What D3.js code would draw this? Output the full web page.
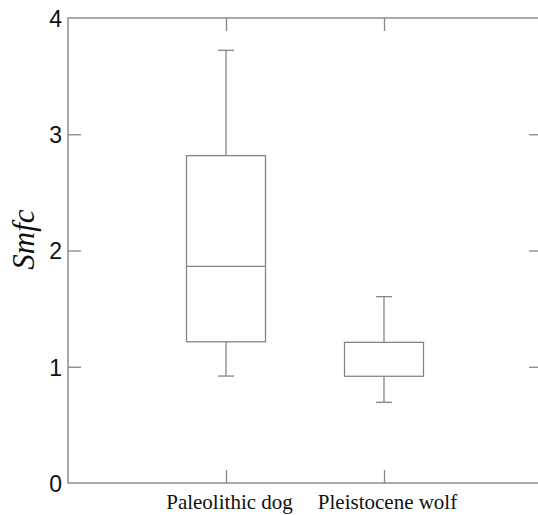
<!DOCTYPE html>
<html>
<head>
<meta charset="utf-8">
<script src="https://cdn.jsdelivr.net/npm/d3@7"></script>
<style>
  body { margin: 0; background: #fff; }
  svg { display: block; }
</style>
</head>
<body>
<div class="box-chart"></div>
<script>
// values
const categories = ["Paleolithic dog", "Pleistocene wolf"];
const whiskerLow = [0.92, 0.694];
const q1 = [1.215, 0.918];
const medians = [1.864, null];
const q3 = [2.816, 1.21];
const whiskerHigh = [3.722, 1.603];
const yTicks = [0, 1, 2, 3, 4];

const width = 538, height = 515;
const plotLeft = 68, plotRight = 542, plotTop = 18, plotBottom = 483;
const lineColor = "#858585";

const svg = d3.select(".box-chart")
  .append("svg")
  .attr("width", width)
  .attr("height", height);

const x = d3.scalePoint().domain(categories).range([plotLeft, plotRight]).padding(1);
const y = d3.scaleLinear().domain([0, 4]).range([plotBottom, plotTop]);

const rows = categories.map((c, i) => ({
  name: c, lo: whiskerLow[i], q1: q1[i], med: medians[i], q3: q3[i], hi: whiskerHigh[i]
}));

// frame
svg.append("rect")
  .attr("x", plotLeft)
  .attr("y", plotTop)
  .attr("width", plotRight - plotLeft)
  .attr("height", plotBottom - plotTop)
  .attr("fill", "none")
  .attr("stroke", lineColor)
  .attr("stroke-width", 1.4);

// left axis with labels, inward ticks
svg.append("g")
  .attr("transform", "translate(" + plotLeft + ",0)")
  .call(d3.axisLeft(y).tickValues(yTicks).tickSize(-13).tickPadding(6).tickFormat(d3.format("d")))
  .call(g => g.select(".domain").remove())
  .call(g => g.selectAll(".tick line").attr("stroke", lineColor).attr("stroke-width", 1.3))
  .call(g => g.selectAll(".tick line").filter(d => d === 0 || d === 4).remove())
  .call(g => g.selectAll("text")
    .attr("font-family", "Liberation Sans, Arial, sans-serif")
    .attr("font-size", 23)
    .attr("fill", "#111")
    .attr("dy", "0.36em"));

// right axis ticks
svg.append("g")
  .attr("transform", "translate(" + plotRight + ",0)")
  .call(d3.axisRight(y).tickValues([1, 2, 3]).tickSize(-13).tickFormat(""))
  .call(g => g.select(".domain").remove())
  .call(g => g.selectAll(".tick line").attr("stroke", lineColor).attr("stroke-width", 1.3));

// bottom axis
svg.append("g")
  .attr("transform", "translate(0," + plotBottom + ")")
  .call(d3.axisBottom(x).tickSize(-13).tickPadding(11))
  .call(g => g.select(".domain").remove())
  .call(g => g.selectAll(".tick line").attr("stroke", lineColor).attr("stroke-width", 1.3))
  .call(g => g.selectAll("text")
    .attr("font-family", "Liberation Serif, Times New Roman, serif")
    .attr("font-size", 21)
    .attr("fill", "#111")
    .attr("dx", 3));

// top ticks
svg.append("g")
  .attr("transform", "translate(0," + plotTop + ")")
  .call(d3.axisTop(x).tickSize(-13).tickFormat(""))
  .call(g => g.select(".domain").remove())
  .call(g => g.selectAll(".tick line").attr("stroke", lineColor).attr("stroke-width", 1.3));

// y label
svg.append("text")
  .attr("transform", "translate(34," + (y(2) - 11) + ") rotate(-90)")
  .attr("text-anchor", "middle")
  .attr("font-family", "Liberation Serif, Times New Roman, serif")
  .attr("font-style", "italic")
  .attr("font-size", 31)
  .attr("fill", "#111")
  .text("Smfc");

// boxes
const boxHalf = 39.5, capHalf = 8;
const boxLayer = svg.append("g")
  .attr("stroke", lineColor)
  .attr("stroke-width", 1.3)
  .attr("fill", "none");

const boxes = boxLayer.selectAll("g.box")
  .data(rows)
  .enter()
  .append("g")
  .attr("class", "box");

boxes.append("line")
  .attr("x1", d => x(d.name)).attr("x2", d => x(d.name))
  .attr("y1", d => y(d.hi)).attr("y2", d => y(d.q3));
boxes.append("line")
  .attr("x1", d => x(d.name)).attr("x2", d => x(d.name))
  .attr("y1", d => y(d.q1)).attr("y2", d => y(d.lo));
boxes.append("line")
  .attr("x1", d => x(d.name) - capHalf).attr("x2", d => x(d.name) + capHalf)
  .attr("y1", d => y(d.hi)).attr("y2", d => y(d.hi));
boxes.append("line")
  .attr("x1", d => x(d.name) - capHalf).attr("x2", d => x(d.name) + capHalf)
  .attr("y1", d => y(d.lo)).attr("y2", d => y(d.lo));
boxes.append("rect")
  .attr("x", d => x(d.name) - boxHalf)
  .attr("width", boxHalf * 2)
  .attr("y", d => y(d.q3))
  .attr("height", d => y(d.q1) - y(d.q3));
boxes.filter(d => d.med != null)
  .append("line")
  .attr("x1", d => x(d.name) - boxHalf).attr("x2", d => x(d.name) + boxHalf)
  .attr("y1", d => y(d.med)).attr("y2", d => y(d.med));
</script>
</body>
</html>
